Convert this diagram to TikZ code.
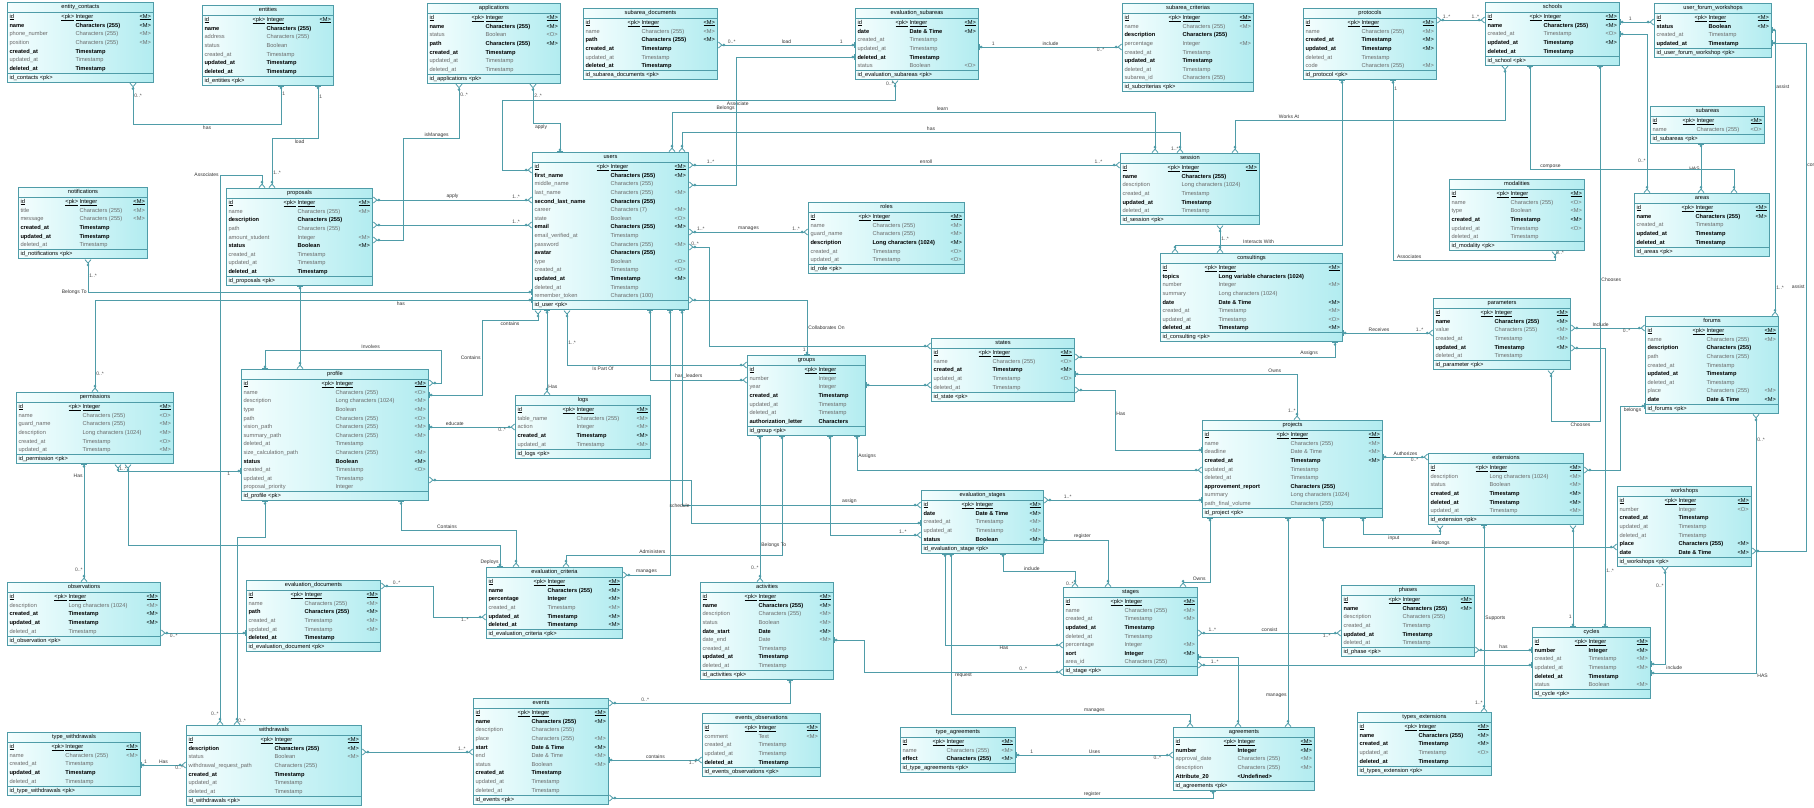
\documentclass[tikz,border=0pt]{standalone}
\usepackage{fontspec}
\setmainfont{Liberation Sans}
\usepackage{colortbl}
\usetikzlibrary{arrows.meta}
\definecolor{erline}{HTML}{4F9CA8}
\definecolor{erfillA}{HTML}{F4FEFE}
\definecolor{erfillB}{HTML}{B2ECF0}
\definecolor{erlite}{HTML}{6B6B6B}
\arrayrulecolor{erline}
\newcommand\ertext{\fontsize{5.7}{8.6}\selectfont}
\newcommand\erlbl{\fontsize{5}{6}\selectfont}
% one row of a table: name, type, flag
\newcommand\erow[3]{\textcolor{erlite}{#1} & & \textcolor{erlite}{#2} & \textcolor{erlite}{#3}\\}
\newcommand\erowb[3]{\textbf{#1} & & \textbf{#2} & #3\\}
\newcommand\epk[1]{\underline{#1} & \underline{<pk>} & \underline{Integer} & \underline{<M>}\\}
% a whole table: node name, x, y, width, name column, title, rows, key
\newcommand\ertab[8]{%
  \node[ertable] (#1) at (#2,#3) {%
    \begin{tabular}{@{\hspace{2pt}}p{#5pt}@{}p{14pt}@{}p{\dimexpr#4pt-#5pt-30pt\relax}@{}p{12pt}@{\hspace{2pt}}}
    \multicolumn{4}{c}{#6}\\[0.5pt]\hline
    #7\hline
    \multicolumn{4}{@{\hspace{2pt}}l}{#8}\\[0.5pt]
    \end{tabular}};}
\tikzset{
  crow/.tip={Circle[open,length=2.6pt,width=2.6pt] Straight Barb[reversed,length=3.5pt,width=6pt]},
  one/.tip={Circle[open,length=2.6pt,width=2.6pt] Bar[width=6pt]},
}
\begin{document}
\catcode`\_=12
\begin{tikzpicture}[x=1pt, y=-1pt,
  ertable/.style={draw=erline, line width=1pt, anchor=north west, inner sep=0pt, left color=erfillA, right color=erfillB, font=\ertext},
  rel/.style={draw=erline, line width=0.8pt},
  lbl/.style={font=\erlbl, text=black!80, inner sep=1pt},
  card/.style={font=\erlbl, text=black!70, inner sep=1pt}]
\fill[white] (0,0) rectangle (1814,807);
\useasboundingbox (0,0) rectangle (1814,807);
%% ------------------------------------------------------------------ top row
\ertab{entitycontacts}{7}{2}{146}{52}{entity_contacts}{
  \epk{id}
  \erowb{name}{Characters (255)}{<M>}
  \erow{phone_number}{Characters (255)}{<M>}
  \erow{position}{Characters (255)}{<M>}
  \erowb{created_at}{Timestamp}{}
  \erow{updated_at}{Timestamp}{}
  \erowb{deleted_at}{Timestamp}{}
}{id_contacts <pk>}
\ertab{entities}{202}{5}{131}{48}{entities}{
  \epk{id}
  \erowb{name}{Characters (255)}{}
  \erow{address}{Characters (255)}{}
  \erow{status}{Boolean}{}
  \erow{created_at}{Timestamp}{}
  \erowb{updated_at}{Timestamp}{}
  \erowb{deleted_at}{Timestamp}{}
}{id_entities <pk>}
\ertab{applications}{427}{3}{133}{42}{applications}{
  \epk{id}
  \erowb{name}{Characters (255)}{<M>}
  \erow{status}{Boolean}{<O>}
  \erowb{path}{Characters (255)}{<M>}
  \erowb{created_at}{Timestamp}{}
  \erow{updated_at}{Timestamp}{}
  \erow{deleted_at}{Timestamp}{}
}{id_applications <pk>}
\ertab{subareadocs}{583}{8}{134}{42}{subarea_documents}{
  \epk{id}
  \erow{name}{Characters (255)}{<M>}
  \erowb{path}{Characters (255)}{<M>}
  \erowb{created_at}{Timestamp}{}
  \erow{updated_at}{Timestamp}{}
  \erowb{deleted_at}{Timestamp}{}
}{id_subarea_documents <pk>}
\ertab{evalsubareas}{855}{8}{123}{38}{evaluation_subareas}{
  \epk{id}
  \erowb{date}{Date \& Time}{<M>}
  \erow{created_at}{Timestamp}{}
  \erow{updated_at}{Timestamp}{}
  \erowb{deleted_at}{Timestamp}{}
  \erow{status}{Boolean}{<O>}
}{id_evaluation_subareas <pk>}
\ertab{subareacriterias}{1122}{3}{131}{44}{subarea_criterias}{
  \epk{id}
  \erow{name}{Characters (255)}{<M>}
  \erowb{description}{Characters (255)}{}
  \erow{percentage}{Integer}{<M>}
  \erow{created_at}{Timestamp}{}
  \erowb{updated_at}{Timestamp}{}
  \erow{deleted_at}{Timestamp}{}
  \erow{subarea_id}{Characters (255)}{}
}{id_subcriterias <pk>}
\ertab{protocols}{1303}{8}{133}{42}{protocols}{
  \epk{id}
  \erow{name}{Characters (255)}{<M>}
  \erowb{created_at}{Timestamp}{<M>}
  \erowb{updated_at}{Timestamp}{<M>}
  \erow{deleted_at}{Timestamp}{}
  \erow{code}{Characters (255)}{<M>}
}{id_protocol <pk>}
\ertab{schools}{1485}{2}{134}{42}{schools}{
  \epk{id}
  \erowb{name}{Characters (255)}{<M>}
  \erow{created_at}{Timestamp}{<O>}
  \erowb{updated_at}{Timestamp}{<M>}
  \erowb{deleted_at}{Timestamp}{}
}{id_school <pk>}
\ertab{userforumws}{1654}{3}{117}{38}{user_forum_workshops}{
  \epk{id}
  \erowb{status}{Boolean}{<M>}
  \erow{created_at}{Timestamp}{}
  \erowb{updated_at}{Timestamp}{}
}{id_user_forum_workshop <pk>}
%% ------------------------------------------------------------------ upper middle
\ertab{notifications}{18}{187}{129}{45}{notifications}{
  \epk{id}
  \erow{title}{Characters (255)}{<M>}
  \erow{message}{Characters (255)}{<M>}
  \erowb{created_at}{Timestamp}{}
  \erowb{updated_at}{Timestamp}{}
  \erow{deleted_at}{Timestamp}{}
}{id_notifications <pk>}
\ertab{proposals}{226}{188}{146}{55}{proposals}{
  \epk{id}
  \erow{name}{Characters (255)}{<M>}
  \erowb{description}{Characters (255)}{}
  \erow{path}{Characters (255)}{}
  \erow{amount_student}{Integer}{<M>}
  \erowb{status}{Boolean}{<M>}
  \erow{created_at}{Timestamp}{}
  \erow{updated_at}{Timestamp}{}
  \erowb{deleted_at}{Timestamp}{}
}{id_proposals <pk>}
\ertab{users}{532}{152}{156}{62}{users}{
  \epk{id}
  \erowb{first_name}{Characters (255)}{<M>}
  \erow{middle_name}{Characters (255)}{}
  \erow{last_name}{Characters (255)}{<M>}
  \erowb{second_last_name}{Characters (255)}{}
  \erow{career}{Characters (7)}{<M>}
  \erow{state}{Boolean}{<O>}
  \erowb{email}{Characters (255)}{<M>}
  \erow{email_verified_at}{Timestamp}{}
  \erow{password}{Characters (255)}{<M>}
  \erowb{avatar}{Characters (255)}{}
  \erow{type}{Boolean}{<O>}
  \erow{created_at}{Timestamp}{<O>}
  \erowb{updated_at}{Timestamp}{<M>}
  \erow{deleted_at}{Timestamp}{}
  \erow{remember_token}{Characters (100)}{}
}{id_user <pk>}
\ertab{roles}{808}{202}{156}{48}{roles}{
  \epk{id}
  \erow{name}{Characters (255)}{<M>}
  \erow{guard_name}{Characters (255)}{<M>}
  \erowb{description}{Long characters (1024)}{<M>}
  \erow{created_at}{Timestamp}{<O>}
  \erow{updated_at}{Timestamp}{<O>}
}{id_role <pk>}
\ertab{session}{1120}{153}{139}{45}{session}{
  \epk{id}
  \erowb{name}{Characters (255)}{}
  \erow{description}{Long characters (1024)}{}
  \erow{created_at}{Timestamp}{}
  \erowb{updated_at}{Timestamp}{}
  \erow{deleted_at}{Timestamp}{}
}{id_session <pk>}
\ertab{subareas}{1650}{106}{114}{30}{subareas}{
  \epk{id}
  \erow{name}{Characters (255)}{<O>}
}{id_subareas <pk>}
\ertab{areas}{1634}{193}{135}{45}{areas}{
  \epk{id}
  \erowb{name}{Characters (255)}{<M>}
  \erow{created_at}{Timestamp}{}
  \erowb{updated_at}{Timestamp}{}
  \erowb{deleted_at}{Timestamp}{}
}{id_areas <pk>}
\ertab{modalities}{1449}{179}{135}{45}{modalities}{
  \epk{id}
  \erow{name}{Characters (255)}{<O>}
  \erow{type}{Boolean}{<M>}
  \erowb{created_at}{Timestamp}{<M>}
  \erow{updated_at}{Timestamp}{<O>}
  \erow{deleted_at}{Timestamp}{}
}{id_modality <pk>}
\ertab{consultings}{1160}{253}{182}{42}{consultings}{
  \epk{id}
  \erowb{topics}{Long variable characters (1024)}{}
  \erow{number}{Integer}{<M>}
  \erow{summary}{Long characters (1024)}{}
  \erowb{date}{Date \& Time}{<M>}
  \erow{created_at}{Timestamp}{<M>}
  \erow{updated_at}{Timestamp}{<O>}
  \erowb{deleted_at}{Timestamp}{<M>}
}{id_consulting <pk>}
\ertab{parameters}{1433}{298}{137}{45}{parameters}{
  \epk{id}
  \erowb{name}{Characters (255)}{<M>}
  \erow{value}{Characters (255)}{<M>}
  \erow{created_at}{Timestamp}{<M>}
  \erowb{updated_at}{Timestamp}{<M>}
  \erow{deleted_at}{Timestamp}{}
}{id_parameter <pk>}
\ertab{forums}{1645}{316}{133}{45}{forums}{
  \epk{id}
  \erow{name}{Characters (255)}{<M>}
  \erowb{description}{Characters (255)}{}
  \erow{path}{Characters (255)}{}
  \erow{created_at}{Timestamp}{}
  \erowb{updated_at}{Timestamp}{}
  \erow{deleted_at}{Timestamp}{}
  \erow{place}{Characters (255)}{<M>}
  \erowb{date}{Date \& Time}{<M>}
}{id_forums <pk>}
%% ------------------------------------------------------------------ lower middle
\ertab{permissions}{16}{392}{157}{50}{permissions}{
  \epk{id}
  \erow{name}{Characters (255)}{<O>}
  \erow{guard_name}{Characters (255)}{<M>}
  \erow{description}{Long characters (1024)}{<M>}
  \erow{created_at}{Timestamp}{<O>}
  \erow{updated_at}{Timestamp}{<M>}
}{id_permission <pk>}
\ertab{profile}{241}{369}{187}{78}{profile}{
  \epk{id}
  \erow{name}{Characters (255)}{<O>}
  \erow{description}{Long characters (1024)}{<M>}
  \erow{type}{Boolean}{<M>}
  \erow{path}{Characters (255)}{<O>}
  \erow{vision_path}{Characters (255)}{<M>}
  \erow{summary_path}{Characters (255)}{<M>}
  \erow{deleted_at}{Timestamp}{}
  \erow{size_calculation_path}{Characters (255)}{<M>}
  \erowb{status}{Boolean}{<M>}
  \erow{created_at}{Timestamp}{<O>}
  \erow{updated_at}{Timestamp}{}
  \erow{proposal_priority}{Integer}{}
}{id_profile <pk>}
\ertab{logs}{515}{395}{135}{45}{logs}{
  \epk{id}
  \erow{table_name}{Characters (255)}{<M>}
  \erow{action}{Integer}{<M>}
  \erowb{created_at}{Timestamp}{<M>}
  \erow{updated_at}{Timestamp}{<M>}
}{id_logs <pk>}
\ertab{groups}{747}{355}{118}{55}{groups}{
  \underline{id} & \underline{<pk>} & \underline{Integer} & \\
  \erow{number}{Integer}{}
  \erow{year}{Integer}{}
  \erowb{created_at}{Timestamp}{}
  \erow{updated_at}{Timestamp}{}
  \erow{deleted_at}{Timestamp}{}
  \erowb{authorization_letter}{Characters}{}
}{id_group <pk>}
\ertab{states}{931}{338}{143}{45}{states}{
  \epk{id}
  \erow{name}{Characters (255)}{<O>}
  \erowb{created_at}{Timestamp}{<M>}
  \erow{updated_at}{Timestamp}{<O>}
  \erow{deleted_at}{Timestamp}{}
}{id_state <pk>}
\ertab{projects}{1202}{420}{180}{72}{projects}{
  \epk{id}
  \erow{name}{Characters (255)}{<M>}
  \erow{deadline}{Date \& Time}{<M>}
  \erowb{created_at}{Timestamp}{<M>}
  \erow{updated_at}{Timestamp}{}
  \erow{deleted_at}{Timestamp}{}
  \erowb{approvement_report}{Characters (255)}{}
  \erow{summary}{Long characters (1024)}{}
  \erow{path_final_volume}{Characters (255)}{}
}{id_project <pk>}
\ertab{evalstages}{921}{490}{122}{38}{evaluation_stages}{
  \epk{id}
  \erowb{date}{Date \& Time}{<M>}
  \erow{created_at}{Timestamp}{<M>}
  \erow{updated_at}{Timestamp}{<M>}
  \erowb{status}{Boolean}{<M>}
}{id_evaluation_stage <pk>}
\ertab{extensions}{1428}{453}{155}{45}{extensions}{
  \epk{id}
  \erow{description}{Long characters (1024)}{<M>}
  \erow{status}{Boolean}{<M>}
  \erowb{created_at}{Timestamp}{<M>}
  \erowb{deleted_at}{Timestamp}{<M>}
  \erow{updated_at}{Timestamp}{<M>}
}{id_extension <pk>}
\ertab{workshops}{1617}{486}{134}{45}{workshops}{
  \epk{id}
  \erow{number}{Integer}{<O>}
  \erowb{created_at}{Timestamp}{}
  \erow{updated_at}{Timestamp}{}
  \erow{deleted_at}{Timestamp}{}
  \erowb{place}{Characters (255)}{<M>}
  \erowb{date}{Date \& Time}{<M>}
}{id_workshops <pk>}
%% ------------------------------------------------------------------ bottom rows
\ertab{observations}{7}{582}{153}{45}{observations}{
  \epk{id}
  \erow{description}{Long characters (1024)}{<M>}
  \erowb{created_at}{Timestamp}{<M>}
  \erowb{updated_at}{Timestamp}{<M>}
  \erow{deleted_at}{Timestamp}{}
}{id_observation <pk>}
\ertab{evaldocs}{246}{580}{134}{42}{evaluation_documents}{
  \epk{id}
  \erow{name}{Characters (255)}{<M>}
  \erowb{path}{Characters (255)}{<M>}
  \erow{created_at}{Timestamp}{<M>}
  \erow{updated_at}{Timestamp}{<M>}
  \erowb{deleted_at}{Timestamp}{}
}{id_evaluation_document <pk>}
\ertab{evalcriteria}{486}{567}{136}{45}{evaluation_criteria}{
  \epk{id}
  \erowb{name}{Characters (255)}{<M>}
  \erowb{percentage}{Integer}{<M>}
  \erow{created_at}{Timestamp}{<M>}
  \erowb{updated_at}{Timestamp}{<M>}
  \erowb{deleted_at}{Timestamp}{<M>}
}{id_evaluation_criteria <pk>}
\ertab{activities}{700}{582}{133}{42}{activities}{
  \epk{id}
  \erowb{name}{Characters (255)}{<M>}
  \erow{description}{Characters (255)}{<M>}
  \erow{status}{Boolean}{<M>}
  \erowb{date_start}{Date}{<M>}
  \erow{date_end}{Date}{<M>}
  \erow{created_at}{Timestamp}{}
  \erowb{updated_at}{Timestamp}{}
  \erow{deleted_at}{Timestamp}{}
}{id_activities <pk>}
\ertab{stages}{1063}{587}{134}{45}{stages}{
  \epk{id}
  \erow{name}{Characters (255)}{<M>}
  \erow{created_at}{Timestamp}{<M>}
  \erowb{updated_at}{Timestamp}{}
  \erow{deleted_at}{Timestamp}{}
  \erow{percentage}{Integer}{<M>}
  \erowb{sort}{Integer}{<M>}
  \erow{area_id}{Characters (255)}{}
}{id_stage <pk>}
\ertab{phases}{1341}{585}{133}{45}{phases}{
  \epk{id}
  \erowb{name}{Characters (255)}{<M>}
  \erow{description}{Characters (255)}{}
  \erow{created_at}{Timestamp}{}
  \erowb{updated_at}{Timestamp}{}
  \erow{deleted_at}{Timestamp}{}
}{id_phase <pk>}
\ertab{cycles}{1532}{627}{118}{40}{cycles}{
  \epk{id}
  \erowb{number}{Integer}{<M>}
  \erow{created_at}{Timestamp}{<M>}
  \erow{updated_at}{Timestamp}{<M>}
  \erowb{deleted_at}{Timestamp}{}
  \erow{status}{Boolean}{<M>}
}{id_cycle <pk>}
\ertab{typewithdrawals}{7}{732}{133}{42}{type_withdrawals}{
  \epk{id}
  \erow{name}{Characters (255)}{<M>}
  \erow{created_at}{Timestamp}{}
  \erowb{updated_at}{Timestamp}{}
  \erow{deleted_at}{Timestamp}{}
}{id_type_withdrawals <pk>}
\ertab{withdrawals}{186}{725}{175}{72}{withdrawals}{
  \epk{id}
  \erowb{description}{Characters (255)}{<M>}
  \erow{status}{Boolean}{<M>}
  \erow{withdrawal_request_path}{Characters (255)}{}
  \erowb{created_at}{Timestamp}{}
  \erow{updated_at}{Timestamp}{}
  \erow{deleted_at}{Timestamp}{}
}{id_withdrawals <pk>}
\ertab{events}{473}{698}{135}{42}{events}{
  \epk{id}
  \erowb{name}{Characters (255)}{<M>}
  \erow{description}{Characters (255)}{}
  \erow{place}{Characters (255)}{<M>}
  \erowb{start}{Date \& Time}{<M>}
  \erow{end}{Date \& Time}{<M>}
  \erow{status}{Boolean}{<M>}
  \erowb{created_at}{Timestamp}{}
  \erow{updated_at}{Timestamp}{}
  \erow{deleted_at}{Timestamp}{}
}{id_events <pk>}
\ertab{eventsobs}{702}{713}{118}{40}{events_observations}{
  \epk{id}
  \erow{comment}{Text}{<M>}
  \erow{created_at}{Timestamp}{}
  \erow{updated_at}{Timestamp}{}
  \erowb{deleted_at}{Timestamp}{}
}{id_events_observations <pk>}
\ertab{typeagreements}{900}{727}{115}{30}{type_agreements}{
  \epk{id}
  \erow{name}{Characters (255)}{<M>}
  \erowb{effect}{Characters (255)}{<M>}
}{id_type_agreements <pk>}
\ertab{agreements}{1173}{727}{141}{48}{agreements}{
  \epk{id}
  \erowb{number}{Integer}{<M>}
  \erow{approval_date}{Characters (255)}{<M>}
  \erow{description}{Characters (255)}{<M>}
  \erowb{Attribute_20}{<Undefined>}{}
}{id_agreements <pk>}
\ertab{typesext}{1357}{712}{134}{45}{types_extensions}{
  \epk{id}
  \erowb{name}{Characters (255)}{<M>}
  \erowb{created_at}{Timestamp}{<M>}
  \erow{updated_at}{Timestamp}{<O>}
  \erowb{deleted_at}{Timestamp}{}
}{id_types_extension <pk>}
%% ------------------------------------------------------------------ relations, left part
\draw[rel, crow-one] ([xshift=126]entitycontacts.south west) -- node[card,pos=0.3,right]{0..*} ++(0,42) -| node[lbl,pos=0.25,below]{has} node[card,pos=0.9,right]{1} ([xshift=79]entities.south west);
\draw[rel, one-crow] ([xshift=116]entities.south west) -- node[card,pos=0.2,right]{1} ++(0,53) -| node[lbl,pos=0.2,below]{load} node[card,pos=0.85,right]{1..*} ([xshift=46]proposals.north west);
\draw[rel, crow-crow] ([xshift=34]withdrawals.north west) -- node[card,pos=0.02,left]{0..*} ++(0,-550) node[lbl,left]{Associates} -| ([xshift=36]proposals.north west);
\draw[rel, crow-crow] ([xshift=32]applications.south west) -- node[card,pos=0.2,right]{0..*} ++(0,55) -| node[lbl,pos=0.2,above]{isManages} ([xshift=30,yshift=-52]proposals.north east) -- ([yshift=-52]proposals.north east);
\draw[rel, crow-one] ([xshift=106]applications.south west) -- node[card,pos=0.3,right]{2..*} ++(0,40) -| node[lbl,pos=0.15,below]{apply} ([xshift=28]users.north west);
\draw[rel, crow-crow] ([yshift=-12]proposals.north east) -- node[lbl,above]{apply} node[card,pos=0.9,above]{1..*} ([yshift=-48]users.north west);
\draw[rel, crow-crow] ([yshift=-37]proposals.north east) -- node[card,pos=0.9,above]{1..*} ([yshift=-73]users.north west);
\draw[rel, crow-one] ([xshift=70]notifications.south west) |- node[card,pos=0.25,right]{1..*} node[lbl,pos=0.5,left]{Belongs To} ([yshift=-140]users.north west);
\draw[rel, crow-one] ([xshift=79]permissions.north west) |- node[card,pos=0.1,right]{0..*} node[lbl,pos=0.85,below]{has} ([yshift=-148]users.north west);
\draw[rel, crow-one] ([xshift=102]permissions.south west) |- node[card,pos=0.3,right]{1..*} node[card,pos=0.95,below]{1} ([yshift=-102]profile.north west);
\draw[rel, crow-one] ([xshift=77]observations.north west) -- node[card,pos=0.1,left]{0..*} node[lbl,pos=0.9,left]{Has} ([xshift=68]permissions.south west);
\draw[rel, crow-one] ([xshift=112]permissions.south west) -- ++(0,81) -| node[lbl,pos=0.9,left]{Deploys} ([xshift=14]evalcriteria.north west);
\draw[rel, crow-one] ([yshift=-51]observations.north east) -- node[card,pos=0.15,below]{0..*} ([yshift=-53]evaldocs.north west);
\draw[rel, crow-crow] ([yshift=-6]evaldocs.north east) -- node[card,pos=0.3,above]{0..*} ++(52,0) |- node[card,pos=0.8,below]{1..*} ([yshift=-50]evalcriteria.north west);
\draw[rel, crow-one] ([xshift=51]withdrawals.north west) -- node[card,pos=0.02,right]{0..*} ++(0,-188) -| ([xshift=24]profile.south west);
\draw[rel, one-crow] ([xshift=24]profile.north west) -- ++(0,-19) -| node[lbl,pos=0.3,above]{Involves} ([xshift=12,yshift=-14]profile.north east) -- ([yshift=-14]profile.north east);
\draw[rel, one-crow] ([xshift=74]proposals.south west) -- ([xshift=59]profile.north west);
\draw[rel, crow-one] ([xshift=6]users.south west) -- ++(0,10) -- node[lbl,below]{contains} ++(-56,0) |- node[lbl,pos=0.25,left]{Contains} ([yshift=-26]profile.north east);
\draw[rel, one-crow] ([yshift=-33]typewithdrawals.north east) -- node[card,pos=0.1,above]{1} node[lbl,above]{Has} node[card,pos=0.85,below]{0..*} ([yshift=-40]withdrawals.north west);
\draw[rel, crow-crow] ([yshift=-27]withdrawals.north east) -- node[card,pos=0.9,above]{1..*} ([yshift=-54]events.north west);
%% ------------------------------------------------------------------ relations, users and groups
\draw[rel, crow-crow] ([yshift=-18]users.north west) -- ++(-30,0) -- ++(0,-70) -| node[lbl,pos=0.3,below]{Associate} node[card,pos=0.9,left]{0..*} ([xshift=40]evalsubareas.south west);
\draw[rel, crow-one] ([yshift=-37]subareadocs.north east) -- node[card,pos=0.1,above]{0..*} node[lbl,above]{load} node[card,pos=0.9,above]{1} ([yshift=-37]evalsubareas.north west);
\draw[rel, one-crow] ([yshift=-39]evalsubareas.north east) -- node[card,pos=0.1,above]{1} node[lbl,above]{include} node[card,pos=0.85,below]{0..*} ([yshift=-44]subareacriterias.north west);
\draw[rel, crow-crow] ([xshift=140]users.north west) -- ++(0,-40) -| node[lbl,pos=0.28,above]{learn} ([xshift=35]session.north west);
\draw[rel, crow-crow] ([xshift=150]users.north west) -- ++(0,-20) -| node[lbl,pos=0.25,above]{has} node[card,pos=0.9,left]{1..*} ([xshift=60]session.north west);
\draw[rel, crow-crow] ([yshift=-13]users.north east) -- node[card,pos=0.05,above]{1..*} node[lbl,pos=0.55,above]{enroll} node[card,pos=0.95,above]{1..*} ([yshift=-12]session.north west);
\draw[rel, crow-crow] ([yshift=-80]users.north east) -- node[card,pos=0.1,above]{1..*} node[lbl,above]{manages} node[card,pos=0.9,above]{1..*} ([yshift=-30]roles.north west);
\draw[rel, crow-one] ([yshift=-33]users.north east) -- ++(47,0) |- node[lbl,pos=0.3,left]{Belongs} ([yshift=-49]evalsubareas.north west);
\draw[rel, crow-crow] ([yshift=-95]users.north east) -- node[card,pos=0.3,above]{0..*} ++(20,0) |- ([yshift=-8]states.north west);
\draw[rel, crow-one] ([yshift=-148]users.north east) -| node[lbl,pos=0.75,right]{Collaborates On} node[card,pos=0.95,left]{1} ([xshift=60]groups.north west);
\draw[rel, one-crow] ([xshift=118]users.south west) |- node[lbl,pos=0.7,above]{has_leaders} ([yshift=-25]groups.north west);
\draw[rel, crow-crow] ([xshift=35]users.south west) |- node[card,pos=0.3,right]{1..*} node[lbl,pos=0.6,below]{Is Part Of} ([yshift=-10]groups.north west);
\draw[rel, one-crow] ([xshift=15]users.south west) -- node[lbl,pos=0.9,right]{Has} ([xshift=32]logs.north west);
\draw[rel, one-crow] ([yshift=-58]profile.north east) -- node[lbl,pos=0.3,above]{educate} node[card,pos=0.85,below]{0..*} ([yshift=-32]logs.north west);
\draw[rel, crow-one] ([xshift=30]evalcriteria.north west) -- ++(0,-37) -| node[lbl,pos=0.3,above]{Contains} ([xshift=-28]profile.south east);
\draw[rel, crow-one] ([xshift=80]evalcriteria.north west) -- ++(0,-12) -| node[lbl,pos=0.2,above]{Administers} ([xshift=35]groups.south west);
\draw[rel, crow-one] ([xshift=60]activities.north west) -- node[card,pos=0.1,left]{0..*} node[lbl,pos=0.25,right]{Belongs To} ([xshift=13]groups.south west);
\draw[rel, crow-one] ([yshift=-8]evalcriteria.north east) -| node[lbl,pos=0.25,above]{manages} ([xshift=138]users.south west);
\draw[rel, one-crow] ([xshift=150]users.south west) |- node[lbl,pos=0.85,above]{assign} ([yshift=-15]evalstages.north west);
\draw[rel, crow-one] ([yshift=-111]profile.north east) -- ++(262,0) |- node[lbl,pos=0.3,left]{schedule} ([yshift=-33]evalstages.north west);
\draw[rel, one-crow] ([xshift=83]groups.south west) |- node[card,pos=0.9,above]{1..*} ([yshift=-45]evalstages.north west);
\draw[rel, one-crow] ([xshift=110]groups.south west) |- node[lbl,pos=0.3,right]{Assigns} ([yshift=-50]projects.north west);
\draw[rel, one-crow] ([yshift=-30]groups.north east) -- ([yshift=-47]states.north west);
%% ------------------------------------------------------------------ relations, projects and stages
\draw[rel, crow-one] ([yshift=-52]states.north east) -- ++(40,0) |- node[lbl,pos=0.2,right]{Has} ([yshift=-30]projects.north west);
\draw[rel, one-crow] ([yshift=-36]states.north east) -| node[lbl,pos=0.45,above]{Owns} node[card,pos=0.9,left]{1..*} ([xshift=95]projects.north west);
\draw[rel, crow-one] ([yshift=-19]states.north east) -| node[lbl,pos=0.45,above]{Assigns} ([xshift=-8]consultings.south east);
\draw[rel, crow-one] ([yshift=-10]evalstages.north east) -- node[card,pos=0.15,above]{1..*} ([yshift=-80]projects.north west);
\draw[rel, one-crow] ([yshift=-50]evalstages.north east) -| node[lbl,pos=0.3,above]{register} ([xshift=45]stages.north west);
\draw[rel, one-crow] ([xshift=82]evalstages.south west) -- ++(0,18) -| node[lbl,pos=0.2,above]{include} node[card,pos=0.9,left]{0..*} ([xshift=12]stages.north west);
\draw[rel, one-crow] ([xshift=24]evalstages.south west) |- node[lbl,pos=0.75,below]{Has} ([yshift=-58]stages.north west);
\draw[rel, one-crow] ([xshift=8]projects.south west) -- ++(0,64) -| node[lbl,pos=0.2,above]{Owns} ([xshift=-15]stages.north east);
\draw[rel, crow-crow] ([yshift=-46]stages.north east) -- node[card,pos=0.1,above]{1..*} node[lbl,above]{consist} node[card,pos=0.9,below]{1..*} ([yshift=-48]phases.north west);
\draw[rel, crow-one] ([yshift=-78]stages.north east) -- node[card,pos=0.05,above]{1..*} ([yshift=-38]cycles.north west);
\draw[rel, one-crow] ([yshift=-58]activities.north east) -- ++(30,0) |- node[lbl,pos=0.75,below]{request} node[card,pos=0.9,above]{0..*} ([yshift=-85]stages.north west);
\draw[rel, crow-one] ([xshift=17]agreements.north west) -- ++(0,-13) -| node[lbl,pos=0.2,above]{manages} ([xshift=30]evalstages.south west);
\draw[rel, crow-one] ([xshift=115]agreements.north west) -- node[lbl,pos=0.15,left]{manages} ([xshift=86]projects.south west);
\draw[rel, crow-one] ([xshift=65]agreements.north west) |- ([yshift=-70]stages.north east);
\draw[rel, one-crow] ([yshift=-28]typeagreements.north east) -- node[card,pos=0.1,above]{1} node[lbl,above]{Uses} node[card,pos=0.9,below]{0..*} ([yshift=-28]agreements.north west);
\draw[rel, crow-one] ([yshift=-100]events.north east) -| node[lbl,pos=0.4,above]{register} ([xshift=40]agreements.south west);
\draw[rel, one-crow] ([yshift=-62]events.north east) -- node[lbl,above]{contains} node[card,pos=0.9,below]{1..*} ([yshift=-47]eventsobs.north west);
\draw[rel, crow-one] ([yshift=-5]events.north east) -| node[card,pos=0.1,above]{0..*} ([xshift=90]activities.south west);
%% ------------------------------------------------------------------ relations, right part
\draw[rel, crow-crow] ([yshift=-12]protocols.north east) -- node[card,pos=0.2,above]{1..*} node[card,pos=0.8,above]{1..*} ([yshift=-18]schools.north west);
\draw[rel, one-crow] ([yshift=-20]schools.north east) -- node[card,pos=0.3,above]{1} ([yshift=-19]userforumws.north west);
\draw[rel, one-crow] ([yshift=-32]schools.north east) -| node[card,pos=0.9,left]{0..*} ([xshift=13]areas.north west);
\draw[rel, one-crow] ([xshift=51]subareas.south west) -- node[lbl,pos=0.5,left]{HAS} ([xshift=67]areas.north west);
\draw[rel, one-crow] ([xshift=45]schools.south west) -- ++(0,104) -| node[lbl,pos=0.05,above]{compose} ([xshift=100]areas.north west);
\draw[rel, one-crow] ([yshift=-27]userforumws.north east) -| node[lbl,pos=0.6,right]{assist} node[card,pos=0.95,right]{1..*} ([xshift=-4]forums.north east);
\draw[rel, one-crow] ([yshift=-40]userforumws.north east) -- ++(34,0) |- node[lbl,pos=0.12,right]{contains} node[lbl,pos=0.24,left]{assist} ([yshift=-65]workshops.north east);
\draw[rel, one-crow] ([xshift=90]protocols.south west) -- node[card,pos=0.05,right]{1} ++(0,180) -| node[lbl,pos=0.05,above]{Associates} node[card,pos=0.9,right]{0..*} ([xshift=-30]modalities.south east);
\draw[rel, crow-crow] ([xshift=115]session.north west) -- ++(0,-33) -| node[lbl,pos=0.1,above]{Works At} ([xshift=20]schools.south west);
\draw[rel, one-crow] ([xshift=39]protocols.south west) -- ++(0,165) -| node[lbl,pos=0.25,above]{Interacts With} ([xshift=15]consultings.north west);
\draw[rel, crow-crow] ([xshift=100]session.south west) -- node[card,pos=0.5,right]{1..*} ([xshift=60]consultings.north west);
\draw[rel, one-crow] ([xshift=115]schools.south west) -- node[lbl,pos=0.6,right]{Chooses} ++(0,356) -| node[lbl,pos=0.2,below]{Chooses} ([xshift=-20]parameters.south east);
\draw[rel, one-crow] ([yshift=-80]consultings.north east) -- node[lbl,pos=0.4,above]{Receives} node[card,pos=0.85,above]{1..*} ([yshift=-35]parameters.north west);
\draw[rel, crow-crow] ([yshift=-30]parameters.north east) -- node[lbl,pos=0.4,above]{Include} node[card,pos=0.75,below]{0..*} ([yshift=-12]forums.north west);
\draw[rel, one-crow] ([yshift=-90]forums.north west) -- node[lbl,pos=0.5,below]{belongs} ++(-25,0) |- ([yshift=-17]extensions.north east);
\draw[rel, one-crow] ([yshift=-37]projects.north east) -- node[lbl,pos=0.5,above]{Authorizes} node[card,pos=0.7,below]{0..*} ([yshift=-4]extensions.north west);
\draw[rel, crow-one] ([xshift=12]extensions.south west) -- ++(0,9) -| node[lbl,pos=0.3,below]{input} ([xshift=-20]projects.south east);
\draw[rel, one-crow] ([xshift=56]extensions.south west) -- node[lbl,pos=0.5,right]{Supports} node[card,pos=0.95,left]{1..*} ([xshift=127]typesext.north west);
\draw[rel, one-crow] ([xshift=-60]projects.south east) |- node[lbl,pos=0.7,above]{Belongs} ([yshift=-61]workshops.north west);
\draw[rel, crow-one] ([yshift=-65]phases.north east) -- node[lbl,above]{has} ([yshift=-23]cycles.north west);
\draw[rel, one-crow] ([xshift=41]cycles.north west) -- node[card,pos=0.1,left]{1} ([xshift=145]extensions.south west);
\draw[rel, one-crow] ([xshift=73]cycles.north west) |- node[card,pos=0.1,right]{1..*} ([yshift=-50]parameters.north east);
\draw[rel, one-crow] ([yshift=-37]cycles.north east) -| node[lbl,pos=0.5,below right]{include} node[card,pos=0.9,left]{0..*} ([xshift=48]workshops.south west);
\draw[rel, crow-one] ([xshift=-23]forums.south east) |- node[card,pos=0.05,right]{0..*} node[lbl,pos=0.5,below right]{HAS} ([yshift=-46]cycles.north east);
\end{tikzpicture}
\end{document}
